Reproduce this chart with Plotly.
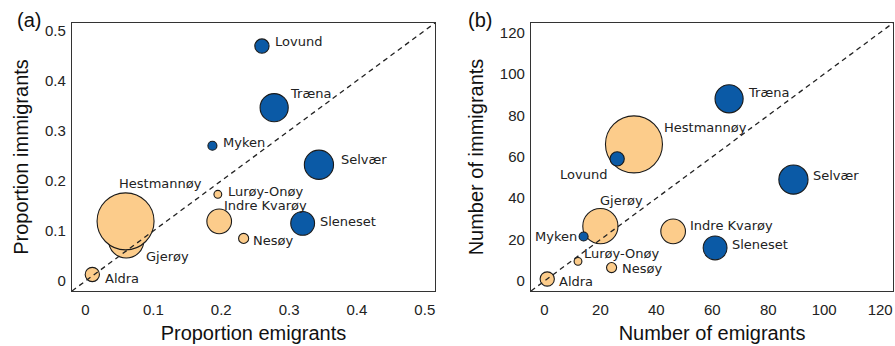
import plotly.graph_objects as go

# Island communities
islands = ["Gjerøy", "Hestmannøy", "Lovund", "Myken", "Træna", "Selvær",
           "Sleneset", "Lurøy-Onøy", "Indre Kvarøy", "Nesøy", "Aldra"]
group = [2, 2, 1, 1, 1, 1, 1, 2, 2, 2, 2]
sample_size = [61, 160, 10, 4, 39, 42, 28, 3, 30, 5, 10]

# Panel (a): proportions
prop_emigrants = [0.060, 0.059, 0.260, 0.187, 0.278, 0.344, 0.320, 0.195, 0.197, 0.233, 0.010]
prop_immigrants = [0.081, 0.119, 0.469, 0.270, 0.346, 0.232, 0.115, 0.173, 0.119, 0.085, 0.013]

# Panel (b): counts
num_emigrants = [20, 32, 26, 14, 66, 89, 61, 12, 46, 24, 1]
num_immigrants = [26.5, 66, 59, 21.5, 88, 49, 16, 9.5, 24, 6.5, 1]

prop_ticks = [0, 0.1, 0.2, 0.3, 0.4, 0.5]
num_ticks = [0, 20, 40, 60, 80, 100, 120]

prop_range = [-0.02, 0.515]
num_range = [-4.8, 124.6]

colors = {1: "#0b5aa6", 2: "#fccc8b"}
point_colors = [colors[g] for g in group]

# label placement: (anchor, xshift px, yshift px)
label_pos_a = {
    "Lovund": ("left", 11, 5), "Træna": ("left", 14, 14), "Myken": ("left", 9, 3),
    "Selvær": ("left", 20, 5), "Sleneset": ("left", 15, 2),
    "Hestmannøy": ("left", -9, 38), "Gjerøy": ("left", 18, -16),
    "Lurøy-Onøy": ("left", 8, 3), "Indre Kvarøy": ("left", 3, 16),
    "Nesøy": ("left", 7, -2), "Aldra": ("left", 11, -4),
}
label_pos_b = {
    "Træna": ("left", 17, 6), "Hestmannøy": ("left", 28, 17), "Lovund": ("right", -8, -16),
    "Selvær": ("left", 18, 4), "Gjerøy": ("center", 21, 26),
    "Indre Kvarøy": ("left", 15, 6), "Sleneset": ("left", 15, 3),
    "Myken": ("right", -5, 0), "Lurøy-Onøy": ("left", 4, 8),
    "Nesøy": ("left", 8, -1), "Aldra": ("left", 10, -3),
}

max_radius = 28.5
sizeref = 2 * max(sample_size) / (2 * max_radius) ** 2

fig = go.Figure()

panels = [
    (prop_emigrants, prop_immigrants, "x", "y", prop_range, label_pos_a),
    (num_emigrants, num_immigrants, "x2", "y2", num_range, label_pos_b),
]

annotations = []
for xs, ys, xa, ya, rng, lpos in panels:
    fig.add_trace(go.Scatter(
        x=xs, y=ys, xaxis=xa, yaxis=ya, mode="markers",
        marker=dict(size=sample_size, sizemode="area", sizeref=sizeref,
                    color=point_colors, opacity=1,
                    line=dict(color="#1a1a1a", width=1.1)),
        hoverinfo="text", text=islands, showlegend=False,
    ))
    # 1:1 reference line
    fig.add_trace(go.Scatter(
        x=rng, y=rng, xaxis=xa, yaxis=ya, mode="lines",
        line=dict(color="#222222", width=1.3, dash="5px,4px"),
        hoverinfo="skip", showlegend=False,
    ))
    for name, x, y in zip(islands, xs, ys):
        anchor, dx, dy = lpos[name]
        annotations.append(dict(
            x=x, y=y, xref=xa, yref=ya, text=name, showarrow=False,
            xanchor=anchor, yanchor="middle", xshift=dx, yshift=dy,
            font=dict(family="DejaVu Sans", size=13, color="#222222"),
        ))

for label, xpos in (("(a)", 0.0165), ("(b)", 0.521)):
    annotations.append(dict(x=xpos, y=0.942, xref="paper", yref="paper", text=label,
                            showarrow=False, xanchor="left", yanchor="middle",
                            font=dict(family="Liberation Sans", size=20, color="#111111")))

axis_common = dict(
    showgrid=False, zeroline=False, showline=True, mirror=True,
    linecolor="#333333", linewidth=1.2,
    ticks="outside", tickcolor="rgba(0,0,0,0)",
    tickfont=dict(family="Liberation Sans", size=15, color="#222222"),
    title_font=dict(family="Liberation Sans", size=20, color="#111111"),
)

fig.update_layout(
    width=895, height=346,
    margin=dict(l=0, r=0, t=0, b=0),
    paper_bgcolor="white", plot_bgcolor="white",
    xaxis=dict(axis_common, domain=[0.0804, 0.486], range=prop_range, ticklen=5,
               tickvals=prop_ticks, title=dict(text="Proportion emigrants", standoff=8)),
    yaxis=dict(axis_common, domain=[0.159, 0.9335], range=prop_range, ticklen=2,
               tickvals=prop_ticks, title=dict(text="Proportion immigrants", standoff=10)),
    xaxis2=dict(axis_common, domain=[0.5933, 0.9978], range=num_range, anchor="y2", ticklen=5,
                tickvals=num_ticks, title=dict(text="Number of emigrants", standoff=8)),
    yaxis2=dict(axis_common, domain=[0.159, 0.9335], range=num_range, anchor="x2", ticklen=2,
                tickvals=num_ticks, title=dict(text="Number of immigrants", standoff=10)),
    annotations=annotations,
)

fig.write_html("out.html")
